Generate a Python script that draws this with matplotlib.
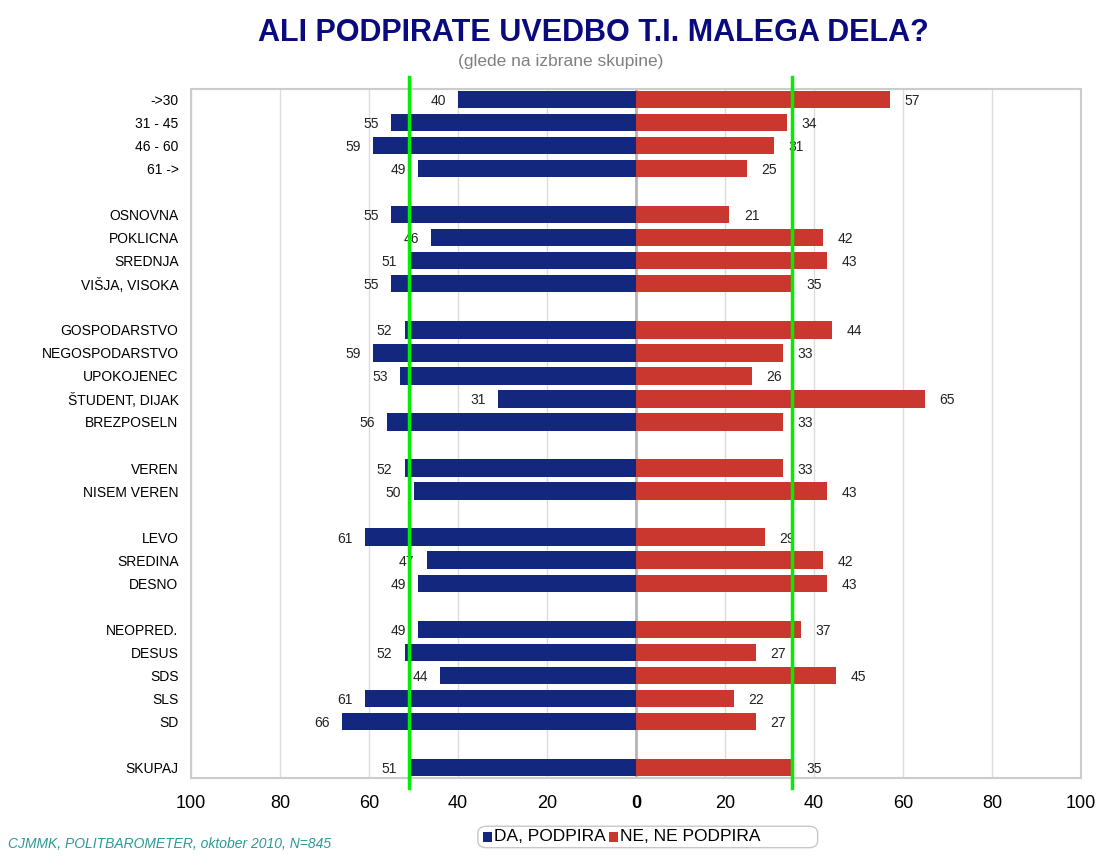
import numpy as np
import matplotlib
matplotlib.use("Agg")
import matplotlib.pyplot as plt
from matplotlib.patches import FancyBboxPatch

# skupine (prazen niz = presledek med skupinami)
skupine = ["->30", "31 - 45", "46 - 60", "61 ->", "",
           "OSNOVNA", "POKLICNA", "SREDNJA", "VIŠJA, VISOKA", "",
           "GOSPODARSTVO", "NEGOSPODARSTVO", "UPOKOJENEC", "ŠTUDENT, DIJAK", "BREZPOSELN", "",
           "VEREN", "NISEM VEREN", "",
           "LEVO", "SREDINA", "DESNO", "",
           "NEOPRED.", "DESUS", "SDS", "SLS", "SD", "",
           "SKUPAJ"]
da = [40, 55, 59, 49, None,
      55, 46, 51, 55, None,
      52, 59, 53, 31, 56, None,
      52, 50, None,
      61, 47, 49, None,
      49, 52, 44, 61, 66, None,
      51]
ne = [57, 34, 31, 25, None,
      21, 42, 43, 35, None,
      44, 33, 26, 65, 33, None,
      33, 43, None,
      29, 42, 43, None,
      37, 27, 45, 22, 27, None,
      35]
meja_da = 51   # skupaj podpira
meja_ne = 35   # skupaj ne podpira
x_ticks = [-100, -80, -60, -40, -20, 0, 20, 40, 60, 80, 100]

modra = "#13277f"
rdeca = "#c9372f"
pisava = ["Liberation Sans", "DejaVu Sans"]

fig = plt.figure(figsize=(10.96, 8.58), dpi=100)
ax = fig.add_axes([0.1743, 0.0932, 0.812, 0.8031])

y = np.arange(len(skupine))
for i in range(len(skupine)):
    if da[i] is None:
        continue
    ax.barh(y[i], -da[i], height=0.76, color=modra, zorder=3)
    ax.barh(y[i], ne[i], height=0.76, color=rdeca, zorder=3)
    ax.text(-da[i] - 4.5, y[i], str(da[i]), ha="center", va="center_baseline",
            fontsize=10, family=pisava, color="#222222", zorder=4)
    ax.text(ne[i] + 5, y[i], str(ne[i]), ha="center", va="center_baseline",
            fontsize=10, family=pisava, color="#222222", zorder=4)

ax.set_xlim(-100, 100)
ax.set_ylim(len(skupine) - 0.55, -0.45)
ax.set_xticks(x_ticks)
ax.set_xticklabels([str(abs(t)) for t in x_ticks], family=pisava, fontsize=13)
ax.get_xticklabels()[5].set_fontweight("bold")
ax.tick_params(axis="x", length=0, pad=12)
ax.set_yticks([yy for yy, s in zip(y, skupine) if s])
ax.set_yticklabels([s for s in skupine if s], family=pisava, fontsize=10)
ax.tick_params(axis="y", length=0, pad=9)
for lab in ax.get_yticklabels():
    lab.set_horizontalalignment("right")

ax.grid(axis="x", color="#dcdcdc", linewidth=1, zorder=0)
ax.axvline(0, color="#b4b4b4", linewidth=2, zorder=2)
for s in ax.spines.values():
    s.set_color("#cccccc")
    s.set_linewidth(1.5)

# zelene crte za skupaj
for v in (-meja_da, meja_ne):
    ax.plot([v, v], [-0.95, len(skupine) - 0.1], color="#00ee00", linewidth=2.5,
            clip_on=False, zorder=5)

fig.text(0.541, 0.961, "ALI PODPIRATE UVEDBO T.I. MALEGA DELA?", ha="center", va="center",
         fontsize=22, fontweight="bold", color="#0a0a80", family=pisava)
fig.text(0.512, 0.928, "(glede na izbrane skupine)", ha="center", va="center",
         fontsize=12.5, color="#808080", family=pisava)
fig.text(0.007, 0.008, "CJMMK, POLITBAROMETER, oktober 2010, N=845", ha="left", va="bottom",
         fontsize=10, style="italic", color="#2a9a9a", family=pisava)

# legenda
box = FancyBboxPatch((0.436, 0.012), 0.31, 0.025, boxstyle="round,pad=0,rounding_size=0.008",
                     transform=fig.transFigure, facecolor="white", edgecolor="#c8c8c8",
                     linewidth=1)
fig.patches.append(box)
fig.patches.append(plt.Rectangle((0.441, 0.019), 0.008, 0.011, transform=fig.transFigure,
                                 facecolor=modra, edgecolor="none"))
fig.text(0.451, 0.0245, "DA, PODPIRA", ha="left", va="center", fontsize=12.5,
         family=pisava, color="black")
fig.patches.append(plt.Rectangle((0.556, 0.019), 0.008, 0.011, transform=fig.transFigure,
                                 facecolor=rdeca, edgecolor="none"))
fig.text(0.566, 0.0245, "NE, NE PODPIRA", ha="left", va="center", fontsize=12.5,
         family=pisava, color="black")

fig.savefig("out.png", dpi=100)
